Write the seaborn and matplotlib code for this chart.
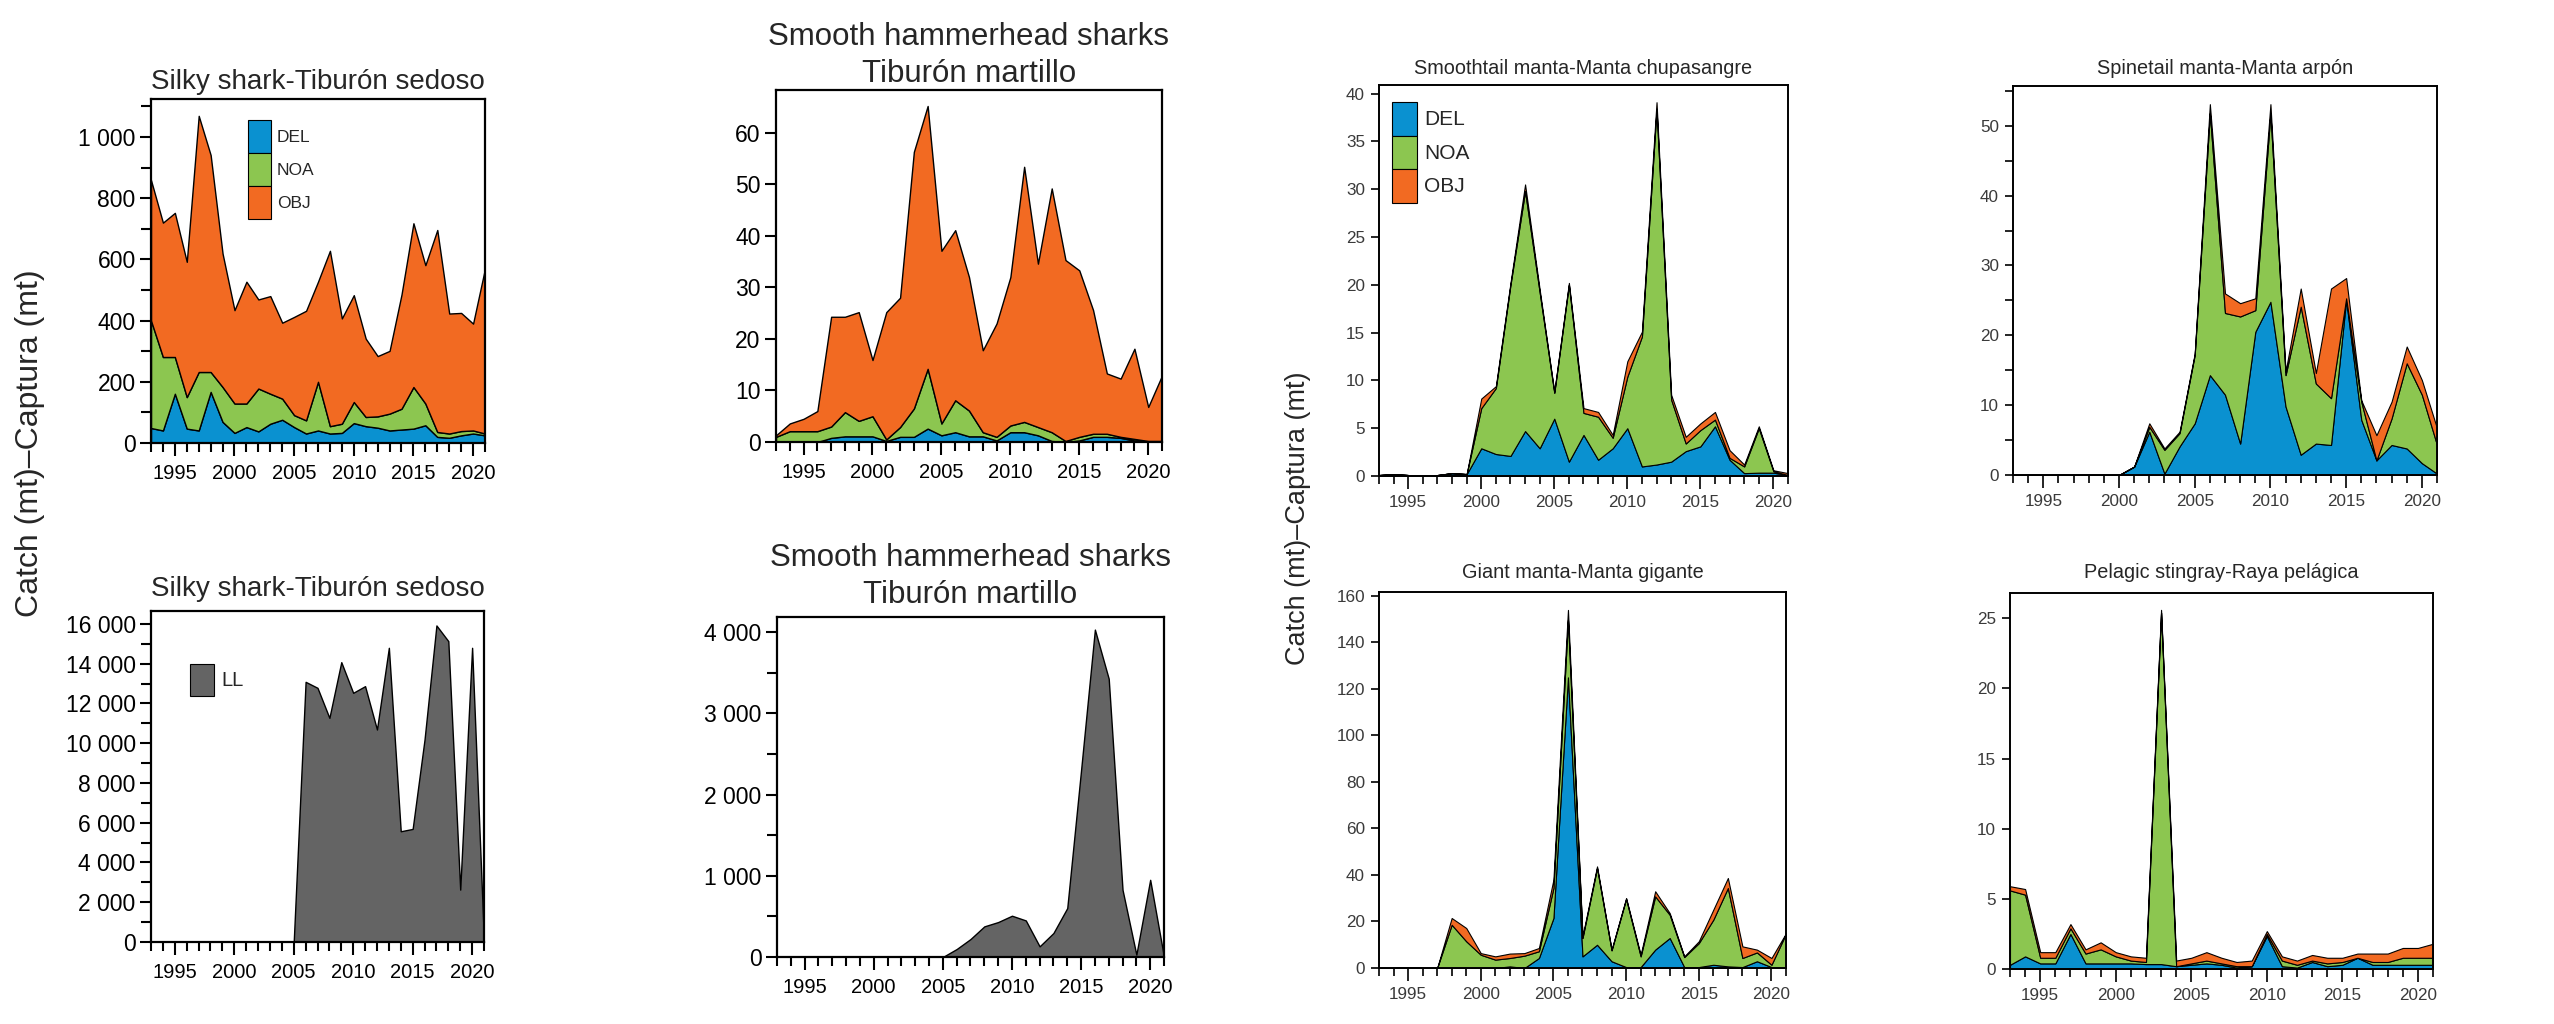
import matplotlib
matplotlib.use('Agg')
import matplotlib.pyplot as plt
from matplotlib import font_manager
from matplotlib.patches import Patch
from matplotlib.ticker import MultipleLocator, FuncFormatter
import seaborn as sns

import warnings
warnings.filterwarnings('ignore')

# ---- data (catch in mt, 1993-2021) ----
YEARS = list(range(1993, 2022))
GEARS = ['DEL', 'NOA', 'OBJ']

SILKY_PS_DEL = [49, 41, 161, 47, 41, 167, 69, 33, 52, 38, 63, 76, 52, 31, 41, 31, 33, 65, 55, 50,
                41, 44, 47, 58, 20, 17, 25, 31, 25]
SILKY_PS_NOA = [351, 240, 120, 103, 191, 65, 114, 96, 77, 140, 98, 69, 39, 43, 159, 24, 30, 69, 30, 37,
                55, 68, 136, 71, 16, 14, 14, 10, 6]
SILKY_PS_OBJ = [459, 439, 471, 442, 837, 709, 436, 305, 398, 291, 319, 248, 321, 358, 327, 573, 344, 349,
                256, 197, 205, 373, 535, 452, 660, 392, 386, 349, 539]

HAMMER_PS_DEL = [0, 0, 0, 0, 0.8, 1.1, 1.1, 1.1, 0.2, 1.0, 1.0, 2.6, 1.3, 1.9, 1.1, 1.1, 0.3, 1.9, 1.9, 1.3,
                 0.2, 0, 0.3, 1.0, 1.0, 0.8, 0.3, 0, 0]
HAMMER_PS_NOA = [1.0, 2.1, 2.1, 2.1, 2.2, 4.7, 3.0, 3.9, 0.3, 1.9, 5.5, 11.6, 2.3, 6.2, 5.0, 0.8, 0.7, 1.3,
                 2.0, 1.6, 1.7, 0.2, 0.7, 0.6, 0.6, 0.2, 0.3, 0.2, 0.2]
HAMMER_PS_OBJ = [0.3, 1.5, 2.4, 3.9, 21.3, 18.5, 21.1, 10.9, 24.7, 25.1, 49.8, 51.0, 33.5, 33.0, 25.9, 15.9,
                 22.0, 28.8, 49.5, 31.7, 47.3, 35.1, 32.3, 24.0, 11.7, 11.3, 17.5, 6.6, 12.7]

SILKY_LL = [0, 0, 0, 0, 0, 0, 0, 0, 0, 0, 0, 0, 0, 13087, 12785, 11275, 14077, 12534, 12869, 10688,
            14799, 5570, 5688, 10185, 15923, 15134, 2634, 14799, 0]
HAMMER_LL = [0, 0, 0, 0, 0, 0, 0, 0, 0, 0, 0, 0, 0, 98, 221, 377, 430, 508, 450, 131,
             295, 602, 2300, 4030, 3426, 827, 29, 950, 0]

SMOOTHTAIL_DEL = [0.1, 0.2, 0.1, 0, 0.1, 0.3, 0.2, 2.9, 2.3, 2.1, 4.7, 2.9, 6.0, 1.5, 4.3, 1.7, 2.9, 5.0,
                  1.0, 1.2, 1.5, 2.6, 3.1, 5.2, 1.7, 0.3, 0.35, 0.35, 0.1]
SMOOTHTAIL_NOA = [0, 0, 0, 0, 0, 0, 0, 4.2, 6.9, 17.9, 25.1, 16.3, 2.7, 18.5, 2.3, 4.5, 1.1, 5.4, 13.6,
                  37.2, 6.5, 0.8, 1.7, 0.7, 0.2, 0.7, 4.65, 0.15, 0]
SMOOTHTAIL_OBJ = [0, 0, 0, 0, 0, 0, 0, 1.0, 0.2, 0.2, 0.7, 0.3, 0.1, 0.2, 0.5, 0.5, 0.3, 1.6, 0.5, 0.7,
                  0.5, 0.7, 0.7, 0.8, 0.8, 0.2, 0.2, 0.1, 0.2]

SPINETAIL_DEL = [0, 0, 0, 0, 0, 0, 0, 0, 1.2, 6.2, 0.2, 4.1, 7.4, 14.3, 11.5, 4.5, 20.5, 24.8, 9.8, 2.9,
                 4.5, 4.3, 25.1, 7.9, 2.1, 4.3, 3.8, 1.7, 0.2]
SPINETAIL_NOA = [0, 0, 0, 0, 0, 0, 0, 0, 0, 0.7, 3.4, 1.9, 9.8, 37.5, 11.7, 18.2, 3.1, 27.0, 4.5, 21.2,
                 8.6, 6.7, 0.2, 2.6, 0, 3.8, 12.2, 9.8, 4.1]
SPINETAIL_OBJ = [0, 0, 0, 0, 0, 0, 0, 0, 0, 0.5, 0.2, 0.2, 0.2, 1.3, 2.8, 1.9, 1.7, 1.3, 0.5, 2.6,
                 1.5, 15.7, 2.9, 0.2, 3.6, 2.4, 2.4, 2.1, 2.4]

GIANT_DEL = [0, 0, 0.3, 0, 0, 0, 0, 0, 0, 0.7, 0, 4.3, 21.5, 125, 5.0, 10.0, 2.9, 0.4, 0.4, 7.9,
             12.9, 0.4, 0.4, 1.4, 0.7, 0.4, 2.9, 0.4, 0]
GIANT_NOA = [0, 0, 0, 0, 0, 18.6, 11.5, 5.7, 3.6, 3.6, 5.3, 2.9, 12.9, 24.7, 7.9, 33.0, 4.7, 29.3, 4.6,
             22.9, 10.0, 4.3, 10.3, 19.4, 33.7, 3.9, 3.8, 1.0, 14.8]
GIANT_OBJ = [0, 0, 0, 0, 0, 2.9, 5.7, 0.7, 1.4, 1.9, 1.1, 1.4, 3.6, 4.3, 0.7, 0.7, 0.3, 0.4, 0.7, 2.2,
             0.7, 0.3, 0.8, 4.3, 4.3, 5.0, 1.2, 2.9, 0.2]

PELAGIC_DEL = [0.3, 0.9, 0.4, 0.4, 2.5, 0.4, 0.4, 0.4, 0.4, 0.35, 0.35, 0.2, 0.3, 0.4, 0.3, 0.1, 0.2,
               2.35, 0.2, 0.1, 0.5, 0.2, 0.3, 0.8, 0.3, 0.3, 0.3, 0.3, 0.3]
PELAGIC_NOA = [5.3, 4.4, 0.4, 0.4, 0.4, 0.7, 1.0, 0.5, 0.2, 0.15, 25.05, 0, 0.1, 0.2, 0.1, 0.1, 0, 0.15,
               0.4, 0.2, 0.1, 0.2, 0.2, 0, 0.2, 0.2, 0.5, 0.5, 0.5]
PELAGIC_OBJ = [0.3, 0.4, 0.4, 0.4, 0.3, 0.3, 0.5, 0.3, 0.3, 0.3, 0.2, 0.4, 0.4, 0.6, 0.4, 0.3, 0.4, 0.2,
               0.3, 0.3, 0.4, 0.4, 0.3, 0.3, 0.6, 0.6, 0.7, 0.7, 1.0]

YLABEL = 'Catch (mt)\u2013Captura (mt)'

COLORS = ['#0a91d0', '#8cc650', '#f26a22']
LL_COLOR = '#646464'

W, H = 2554, 1024

sns.set_theme(style='ticks')
REGULAR = ['Liberation Sans', 'DejaVu Sans']
# tick labels in the original are set in a condensed face; use it when it exists
have_narrow = any(f.name == 'Liberation Sans Narrow' for f in font_manager.fontManager.ttflist)
if have_narrow:
    TICK_FAMILY = ['Liberation Sans Narrow', 'Liberation Sans', 'DejaVu Sans']
    BIG_X, BIG_Y, SMALL_TICK = 17, 19, 13.5
else:
    TICK_FAMILY = REGULAR
    BIG_X, BIG_Y, SMALL_TICK = 14.5, 16.5, 12.3
plt.rcParams['font.family'] = REGULAR
plt.rcParams['axes.linewidth'] = 1.5


def px_axes(fig, l, t, r, b):
    return fig.add_axes([l / W, 1 - b / H, (r - l) / W, (b - t) / H])


def thousands(v, pos):
    return f"{v:,.0f}".replace(",", " ")


def style_axes(ax, ymax, ymajor, yminor, big):
    ax.set_xlim(1993, 2021)
    ax.set_ylim(0, ymax)
    ax.xaxis.set_major_locator(MultipleLocator(5))
    ax.xaxis.set_minor_locator(MultipleLocator(1))
    ax.yaxis.set_major_locator(MultipleLocator(ymajor))
    if yminor:
        ax.yaxis.set_minor_locator(MultipleLocator(yminor))
    else:
        ax.yaxis.set_minor_locator(plt.NullLocator())
    ax.yaxis.set_major_formatter(FuncFormatter(thousands))
    for s in ax.spines.values():
        s.set_color('black')
        s.set_linewidth(1.6 if big else 1.4)
    if big:
        ax.tick_params(axis='both', which='major', colors='black', width=1.5)
        ax.tick_params(axis='x', which='major', length=9, pad=6, labelsize=BIG_X)
        ax.tick_params(axis='y', which='major', length=8, pad=3, labelsize=BIG_Y)
        ax.tick_params(axis='x', which='minor', length=6.5, width=1.5, color='black')
        ax.tick_params(axis='y', which='minor', length=7, width=1.5, color='black')
    else:
        ax.tick_params(axis='both', which='major', labelsize=SMALL_TICK, width=1.2, color='black',
                       labelcolor='#3a3a3a')
        ax.tick_params(axis='x', which='major', length=9, pad=5)
        ax.tick_params(axis='y', which='major', length=6, pad=4)
        ax.tick_params(axis='x', which='minor', length=6, width=1.2, color='black')
        ax.tick_params(axis='y', which='minor', length=6, width=1.2, color='black')
    for lab in ax.get_xticklabels() + ax.get_yticklabels():
        lab.set_family(TICK_FAMILY)
    ax.grid(False)


def stack(ax, d, n, o, lw=0.8):
    ax.stackplot(YEARS, d, n, o, colors=COLORS, edgecolor='black', linewidth=lw)


def add_legend(fig, labels, colors, x, y, fs, hl, hh):
    handles = [Patch(facecolor=c, edgecolor='black', linewidth=0.8) for c in colors]
    fig.legend(handles, labels, loc='upper left', bbox_to_anchor=(x / W, 1 - y / H),
               bbox_transform=fig.transFigure, frameon=False,
               handlelength=hl, handleheight=hh, labelspacing=0, handletextpad=0.35,
               borderpad=0, borderaxespad=0, prop={'family': TICK_FAMILY, 'size': fs})


fig = plt.figure(figsize=(W / 100, H / 100), dpi=100)
fig.patch.set_facecolor('white')

# ---- sharks, purse-seine ----
ax = px_axes(fig, 151, 99, 485, 443)
stack(ax, SILKY_PS_DEL, SILKY_PS_NOA, SILKY_PS_OBJ, lw=1.0)
style_axes(ax, 1124, 200, 100, True)
ax.set_title('Silky shark-Tibur\u00f3n sedoso', fontsize=20, pad=7)
add_legend(fig, GEARS, COLORS, 248, 120, 12.5, 1.3, 2.55)

ax = px_axes(fig, 776, 90, 1162, 442)
stack(ax, HAMMER_PS_DEL, HAMMER_PS_NOA, HAMMER_PS_OBJ, lw=1.0)
style_axes(ax, 68.3, 10, None, True)
ax.set_title('Smooth hammerhead sharks\nTibur\u00f3n martillo', fontsize=22.5, pad=6, linespacing=1.3)

# ---- sharks, longline ----
ax = px_axes(fig, 151, 611, 484, 942)
ax.stackplot(YEARS, SILKY_LL, colors=[LL_COLOR], edgecolor='black', linewidth=1.0)
style_axes(ax, 16650, 2000, 1000, True)
ax.set_title('Silky shark-Tibur\u00f3n sedoso', fontsize=20, pad=11)
add_legend(fig, ['LL'], [LL_COLOR], 190, 664, 14.5, 1.2, 2.05)

ax = px_axes(fig, 777, 617, 1164, 957)
ax.stackplot(YEARS, HAMMER_LL, colors=[LL_COLOR], edgecolor='black', linewidth=1.0)
style_axes(ax, 4185, 1000, 500, True)
ax.set_title('Smooth hammerhead sharks\nTibur\u00f3n martillo', fontsize=22.5, pad=10, linespacing=1.3)

# ---- rays ----
ax = px_axes(fig, 1379, 85, 1788, 476)
stack(ax, SMOOTHTAIL_DEL, SMOOTHTAIL_NOA, SMOOTHTAIL_OBJ)
style_axes(ax, 40.9, 5, None, False)
ax.set_title('Smoothtail manta-Manta chupasangre', fontsize=14.3, pad=8)
add_legend(fig, GEARS, COLORS, 1392, 102, 15, 1.2, 2.1)

ax = px_axes(fig, 2013, 86, 2437, 475)
stack(ax, SPINETAIL_DEL, SPINETAIL_NOA, SPINETAIL_OBJ)
style_axes(ax, 55.7, 10, 5, False)
ax.set_title('Spinetail manta-Manta arp\u00f3n', fontsize=14.3, pad=9)

ax = px_axes(fig, 1379, 592, 1786, 968)
stack(ax, GIANT_DEL, GIANT_NOA, GIANT_OBJ)
style_axes(ax, 161.7, 20, None, False)
ax.set_title('Giant manta-Manta gigante', fontsize=14.3, pad=10)

ax = px_axes(fig, 2010, 593, 2433, 969)
stack(ax, PELAGIC_DEL, PELAGIC_NOA, PELAGIC_OBJ)
style_axes(ax, 26.8, 5, None, False)
ax.set_title('Pelagic stingray-Raya pel\u00e1gica', fontsize=14.3, pad=11)

# shared y labels
fig.text(30 / W, 1 - 443 / H, YLABEL, rotation=90, ha='center', va='center', fontsize=23)
fig.text(1298 / W, 1 - 518 / H, YLABEL, rotation=90, ha='center', va='center', fontsize=19.5)

fig.savefig('out.png', dpi=100, facecolor='white')
